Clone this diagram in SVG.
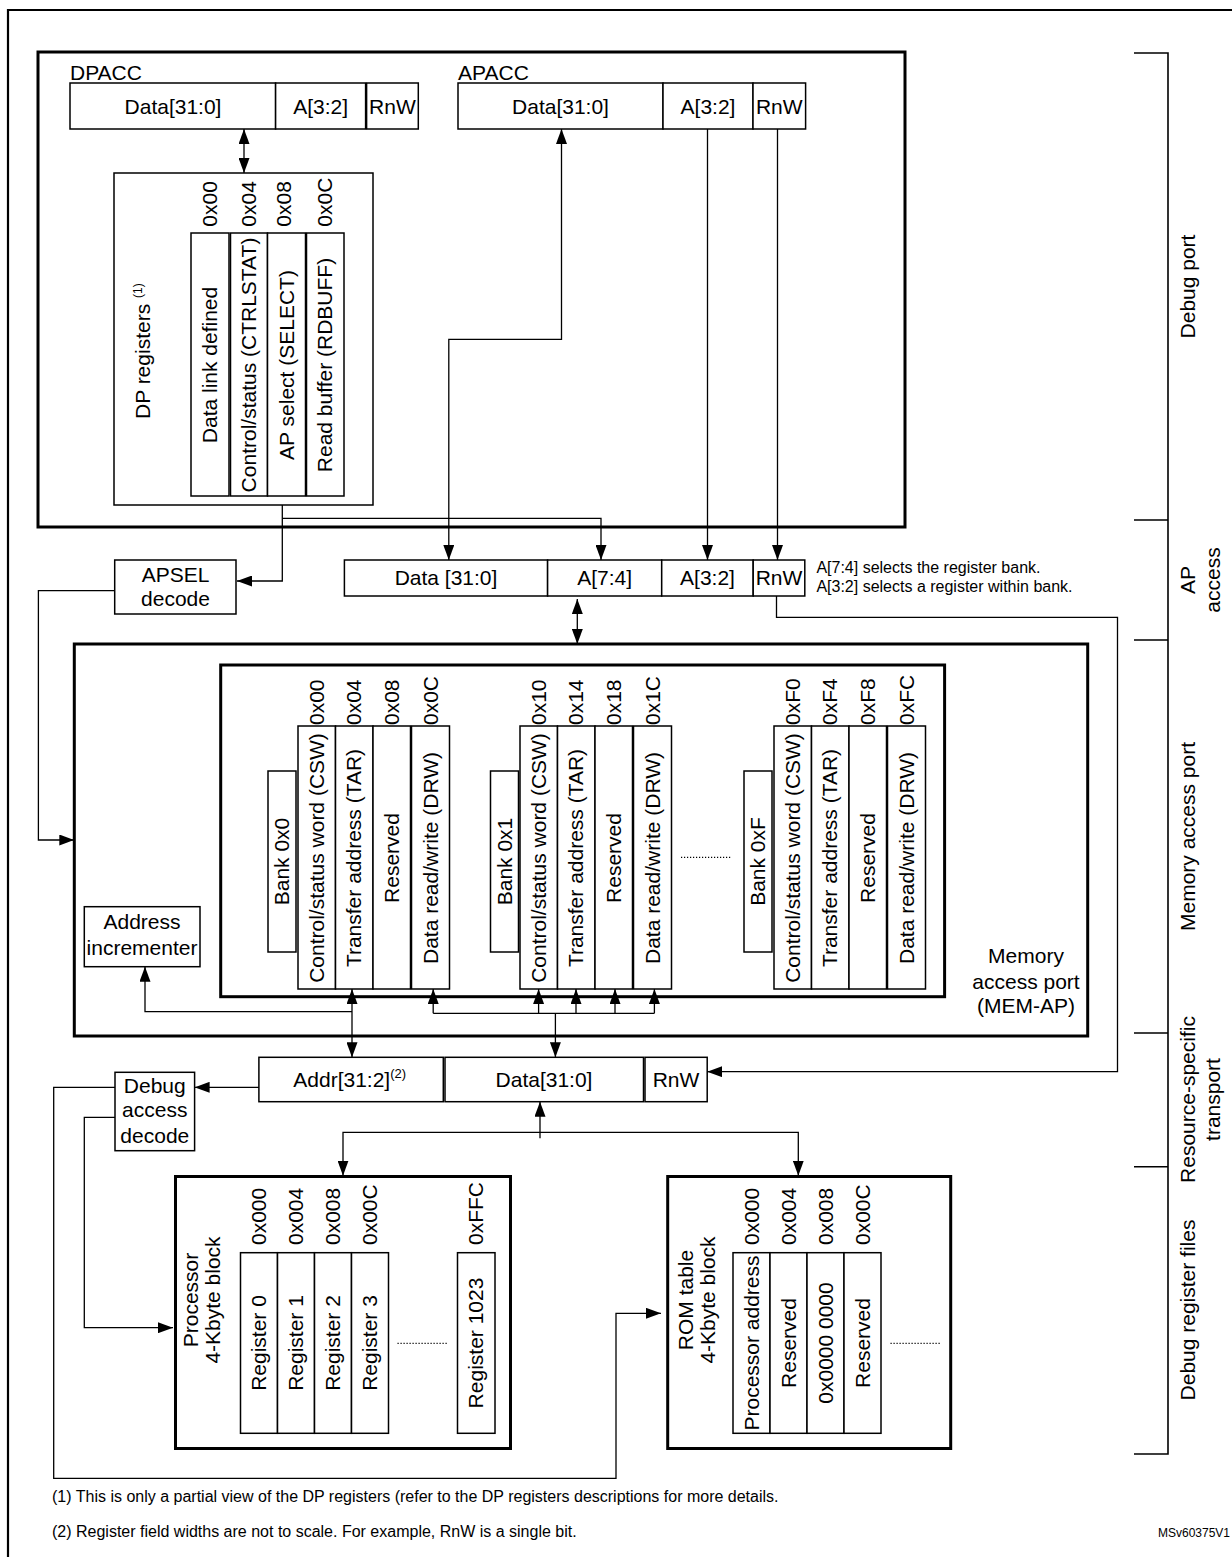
<svg xmlns="http://www.w3.org/2000/svg" width="1232" height="1557" viewBox="0 0 1232 1557">
<defs>
<style>
text{font-family:"Liberation Sans",Arial,Helvetica,sans-serif;font-size:21px;fill:#000}
.c{text-anchor:middle}
.a{text-anchor:start}
.s{font-size:16px}
.m{font-size:12px}
.b{fill:#fff;stroke:#000;stroke-width:1.5}
.k{fill:none;stroke:#000;stroke-width:3}
.l{fill:none;stroke:#000;stroke-width:1.3}
.d{fill:none;stroke:#000;stroke-width:1.2;stroke-dasharray:1.2 1.8}
.ah{marker-end:url(#ah)}
.ah2{marker-start:url(#ah);marker-end:url(#ah)}
</style>
<marker id="ah" viewBox="0 0 15 11" refX="15" refY="5.5" markerWidth="15" markerHeight="11" markerUnits="userSpaceOnUse" orient="auto-start-reverse"><path d="M0,0 L15,5.5 L0,11 z" fill="#000"/></marker>
</defs>
<rect width="1232" height="1557" fill="#fff"/>
<g id="frame"><path d="M8,1557 V10 H1232" fill="none" stroke="#000" stroke-width="2.2"/></g>

<g id="debug-port"><rect class="k" x="38" y="52" width="867" height="475"/></g>

<g id="dpacc">
<text x="70" y="80">DPACC</text>
<rect class="b" x="70" y="83" width="205.6" height="46"/>
<rect class="b" x="275.6" y="83" width="90" height="46"/>
<rect class="b" x="366.6" y="83" width="51.7" height="46"/>
<text class="c" x="173" y="113.5">Data[31:0]</text>
<text class="c" x="320.6" y="113.5">A[3:2]</text>
<text class="c" x="392.4" y="113.5">RnW</text>
</g>

<g id="apacc">
<text x="458" y="80">APACC</text>
<rect class="b" x="458" y="83" width="205" height="46"/>
<rect class="b" x="663" y="83" width="90" height="46"/>
<rect class="b" x="753" y="83" width="52.6" height="46"/>
<text class="c" x="560.5" y="113.5">Data[31:0]</text>
<text class="c" x="708" y="113.5">A[3:2]</text>
<text class="c" x="779.3" y="113.5">RnW</text>
</g>

<g id="dp-registers">
<rect class="b" x="114" y="173" width="259" height="332"/>
<text transform="translate(150,419) rotate(-90)">DP registers <tspan font-size="12" dy="-8">(1)</tspan></text>
<rect class="b" x="191" y="233" width="38" height="263"/>
<rect class="b" x="230.5" y="233" width="37" height="263"/>
<rect class="b" x="267.5" y="233" width="38" height="263"/>
<rect class="b" x="306.5" y="233" width="37.5" height="263"/>
<text class="a" transform="translate(216.7,226.7) rotate(-90)">0x00</text>
<text class="a" transform="translate(256.2,226.7) rotate(-90)">0x04</text>
<text class="a" transform="translate(290.6,226.7) rotate(-90)">0x08</text>
<text class="a" transform="translate(332.1,226.7) rotate(-90)">0x0C</text>
<text class="c" transform="translate(217,365) rotate(-90)">Data link defined</text>
<text class="c" transform="translate(256,365) rotate(-90)">Control/status (CTRLSTAT)</text>
<text class="c" transform="translate(293.5,365) rotate(-90)">AP select (SELECT)</text>
<text class="c" transform="translate(332.3,365) rotate(-90)">Read buffer (RDBUFF)</text>
</g>

<g id="apsel-decode">
<rect class="b" x="114.7" y="560" width="121.3" height="54"/>
<text class="c" x="175.5" y="581.5">APSEL</text>
<text class="c" x="175.5" y="606">decode</text>
</g>

<g id="ap-access">
<rect class="b" x="344.4" y="560" width="203.2" height="36"/>
<rect class="b" x="547.6" y="560" width="114.1" height="36"/>
<rect class="b" x="661.7" y="560" width="91.5" height="36"/>
<rect class="b" x="753.2" y="560" width="51.6" height="36"/>
<text class="c" x="446" y="584.5">Data [31:0]</text>
<text class="c" x="604.6" y="584.5">A[7:4]</text>
<text class="c" x="707.5" y="584.5">A[3:2]</text>
<text class="c" x="779" y="584.5">RnW</text>
</g>

<g id="ap-notes">
<text class="s" x="816.4" y="572.7">A[7:4] selects the register bank.</text>
<text class="s" x="816.4" y="591.7">A[3:2] selects a register within bank.</text>
</g>

<g id="memory-access-port"><rect class="k" x="74.3" y="644" width="1013.4" height="392"/></g>

<g id="mem-ap">
<rect class="k" x="220.7" y="665" width="723.9" height="331.7"/>
<text class="c" x="1026" y="963">Memory</text>
<text class="c" x="1026" y="989">access port</text>
<text class="c" x="1026" y="1013">(MEM-AP)</text>
</g>

<g id="bank-0x0">
<rect class="b" x="268" y="771" width="28" height="181"/>
<text class="c" transform="translate(289,861.5) rotate(-90)">Bank 0x0</text>
<rect class="b" x="298" y="726" width="37.5" height="263"/>
<rect class="b" x="335.5" y="726" width="37.5" height="263"/>
<rect class="b" x="373" y="726" width="37.5" height="263"/>
<rect class="b" x="411.5" y="726" width="38" height="263"/>
<text class="a" transform="translate(323.8,725) rotate(-90)">0x00</text>
<text class="a" transform="translate(361.3,725) rotate(-90)">0x04</text>
<text class="a" transform="translate(398.8,725) rotate(-90)">0x08</text>
<text class="a" transform="translate(437.5,725) rotate(-90)">0x0C</text>
<text class="c" transform="translate(323.8,858) rotate(-90)">Control/status word (CSW)</text>
<text class="c" transform="translate(361.3,858) rotate(-90)">Transfer address (TAR)</text>
<text class="c" transform="translate(398.8,858) rotate(-90)">Reserved</text>
<text class="c" transform="translate(437.5,858) rotate(-90)">Data read/write (DRW)</text>
</g>

<g id="bank-0x1">
<rect class="b" x="490.5" y="771" width="28" height="181"/>
<text class="c" transform="translate(511.5,861.5) rotate(-90)">Bank 0x1</text>
<rect class="b" x="520" y="726" width="37.5" height="263"/>
<rect class="b" x="557.5" y="726" width="37.5" height="263"/>
<rect class="b" x="595" y="726" width="37.5" height="263"/>
<rect class="b" x="633.5" y="726" width="38" height="263"/>
<text class="a" transform="translate(545.8,725) rotate(-90)">0x10</text>
<text class="a" transform="translate(583.3,725) rotate(-90)">0x14</text>
<text class="a" transform="translate(620.8,725) rotate(-90)">0x18</text>
<text class="a" transform="translate(659.5,725) rotate(-90)">0x1C</text>
<text class="c" transform="translate(545.8,858) rotate(-90)">Control/status word (CSW)</text>
<text class="c" transform="translate(583.3,858) rotate(-90)">Transfer address (TAR)</text>
<text class="c" transform="translate(620.8,858) rotate(-90)">Reserved</text>
<text class="c" transform="translate(659.5,858) rotate(-90)">Data read/write (DRW)</text>
</g>

<g id="bank-ellipsis"><line class="d" x1="681" y1="857.3" x2="732" y2="857.3"/></g>

<g id="bank-0xF">
<rect class="b" x="744" y="771" width="28" height="181"/>
<text class="c" transform="translate(765,861.5) rotate(-90)">Bank 0xF</text>
<rect class="b" x="774" y="726" width="37.5" height="263"/>
<rect class="b" x="811.5" y="726" width="37.5" height="263"/>
<rect class="b" x="849" y="726" width="37.5" height="263"/>
<rect class="b" x="887.5" y="726" width="38" height="263"/>
<text class="a" transform="translate(799.8,725) rotate(-90)">0xF0</text>
<text class="a" transform="translate(837.3,725) rotate(-90)">0xF4</text>
<text class="a" transform="translate(874.8,725) rotate(-90)">0xF8</text>
<text class="a" transform="translate(913.5,725) rotate(-90)">0xFC</text>
<text class="c" transform="translate(799.8,858) rotate(-90)">Control/status word (CSW)</text>
<text class="c" transform="translate(837.3,858) rotate(-90)">Transfer address (TAR)</text>
<text class="c" transform="translate(874.8,858) rotate(-90)">Reserved</text>
<text class="c" transform="translate(913.5,858) rotate(-90)">Data read/write (DRW)</text>
</g>

<g id="address-incrementer">
<rect class="b" x="84.3" y="906.7" width="115.7" height="60"/>
<text class="c" x="142" y="929.3">Address</text>
<text class="c" x="142" y="955">incrementer</text>
</g>

<g id="transport">
<rect class="b" x="258.9" y="1057.3" width="184.4" height="44.4"/>
<rect class="b" x="445" y="1057.3" width="198.5" height="44.4"/>
<rect class="b" x="645" y="1057.3" width="62.2" height="44.4"/>
<text x="293.3" y="1087.3">Addr[31:2]<tspan font-size="13" dy="-9">(2)</tspan></text>
<text class="c" x="544" y="1087.3">Data[31:0]</text>
<text class="c" x="676" y="1087.3">RnW</text>
</g>

<g id="debug-access-decode">
<rect class="b" x="115" y="1072.3" width="79.6" height="78.4"/>
<text class="c" x="154.8" y="1092.7">Debug</text>
<text class="c" x="154.8" y="1117.3">access</text>
<text class="c" x="154.8" y="1142.7">decode</text>
</g>

<g id="processor-block">
<rect class="k" x="175.5" y="1176.5" width="335" height="272"/>
<text class="c" transform="translate(198,1300) rotate(-90)">Processor</text>
<text class="c" transform="translate(220,1300) rotate(-90)">4-Kbyte block</text>
<rect class="b" x="240.5" y="1252.7" width="37" height="180.6"/>
<rect class="b" x="277.5" y="1252.7" width="37" height="180.6"/>
<rect class="b" x="314.5" y="1252.7" width="37" height="180.6"/>
<rect class="b" x="351.5" y="1252.7" width="37" height="180.6"/>
<rect class="b" x="457.5" y="1252.7" width="37.5" height="180.6"/>
<text class="a" transform="translate(266,1245) rotate(-90)">0x000</text>
<text class="a" transform="translate(303,1245) rotate(-90)">0x004</text>
<text class="a" transform="translate(340,1245) rotate(-90)">0x008</text>
<text class="a" transform="translate(377,1245) rotate(-90)">0x00C</text>
<text class="a" transform="translate(483.3,1245) rotate(-90)">0xFFC</text>
<text class="c" transform="translate(266,1343) rotate(-90)">Register 0</text>
<text class="c" transform="translate(303,1343) rotate(-90)">Register 1</text>
<text class="c" transform="translate(340,1343) rotate(-90)">Register 2</text>
<text class="c" transform="translate(377,1343) rotate(-90)">Register 3</text>
<text class="c" transform="translate(483.3,1343) rotate(-90)">Register 1023</text>
<line class="d" x1="397.5" y1="1343.3" x2="447" y2="1343.3"/>
</g>

<g id="rom-table">
<rect class="k" x="667.7" y="1176.5" width="283" height="272"/>
<text class="c" transform="translate(692.5,1300) rotate(-90)">ROM table</text>
<text class="c" transform="translate(714.5,1300) rotate(-90)">4-Kbyte block</text>
<rect class="b" x="733" y="1252.7" width="37" height="180.6"/>
<rect class="b" x="770" y="1252.7" width="37" height="180.6"/>
<rect class="b" x="807" y="1252.7" width="37" height="180.6"/>
<rect class="b" x="844" y="1252.7" width="37" height="180.6"/>
<text class="a" transform="translate(758.5,1245) rotate(-90)">0x000</text>
<text class="a" transform="translate(795.5,1245) rotate(-90)">0x004</text>
<text class="a" transform="translate(832.5,1245) rotate(-90)">0x008</text>
<text class="a" transform="translate(869.5,1245) rotate(-90)">0x00C</text>
<text class="c" transform="translate(758.5,1343) rotate(-90)">Processor address</text>
<text class="c" transform="translate(795.5,1343) rotate(-90)">Reserved</text>
<text class="c" transform="translate(832.5,1343) rotate(-90)">0x0000 0000</text>
<text class="c" transform="translate(869.5,1343) rotate(-90)">Reserved</text>
<line class="d" x1="890.5" y1="1343.3" x2="940.5" y2="1343.3"/>
</g>

<g id="connectors">
<path class="l ah2" d="M244,129 V173"/>
<path class="l ah2" d="M561.5,129 V339.3 H448.8 V560"/>
<path class="l ah" d="M707.5,129 V560"/>
<path class="l ah" d="M777.5,129 V560"/>
<path class="l ah" d="M282.3,505 V581 H237"/>
<path class="l ah" d="M282.3,518.3 H601 V560"/>
<path class="l ah" d="M114.7,590.7 H38.4 V840 H74.3"/>
<path class="l ah2" d="M577.3,599 V644"/>
<path class="l ah" d="M776.5,596 V617.3 H1117.5 V1071.7 H707.2"/>
<path class="l ah2" d="M352,989 V1057.3"/>
<path class="l ah" d="M352,1011.7 H145 V966.7"/>
<path class="l" d="M433.2,1013.3 H654.4"/>
<path class="l ah" d="M433.2,1013.3 V989"/>
<path class="l ah" d="M538.6,1013.3 V989"/>
<path class="l ah" d="M576,1013.3 V989"/>
<path class="l ah" d="M615,1013.3 V989"/>
<path class="l ah" d="M654.4,1013.3 V989"/>
<path class="l ah" d="M555.4,1013.3 V1057.3"/>
<path class="l ah" d="M258.9,1087.3 H194.6"/>
<path class="l ah" d="M115,1087.3 H53.7 V1478.3 H616 V1313.3 H661"/>
<path class="l ah" d="M115,1117.3 H84.3 V1327.7 H173"/>
<path class="l ah" d="M540,1138.3 V1101.7"/>
<path class="l ah2" d="M343,1175.7 V1132.3 H798.3 V1175.7"/>
</g>

<g id="side-labels">
<path d="M1134,53 H1168 V1454 H1134 M1134,520 H1168 M1134,640 H1168 M1134,1033 H1168 M1134,1166.7 H1168" fill="none" stroke="#000" stroke-width="1.6"/>
<text class="c" transform="translate(1195,286.5) rotate(-90)">Debug port</text>
<text class="c" transform="translate(1195,580) rotate(-90)">AP</text>
<text class="c" transform="translate(1220,580) rotate(-90)">access</text>
<text class="c" transform="translate(1195,836.5) rotate(-90)">Memory access port</text>
<text class="c" transform="translate(1195,1099.5) rotate(-90)">Resource-specific</text>
<text class="c" transform="translate(1220,1099.5) rotate(-90)">transport</text>
<text class="c" transform="translate(1195,1310) rotate(-90)">Debug register files</text>
</g>

<g id="footnotes">
<text class="s" x="52" y="1502">(1) This is only a partial view of the DP registers (refer to the DP registers descriptions for more details.</text>
<text class="s" x="52" y="1537">(2) Register field widths are not to scale. For example, RnW is a single bit.</text>
<text class="m" x="1158" y="1537">MSv60375V1</text>
</g>
</svg>
